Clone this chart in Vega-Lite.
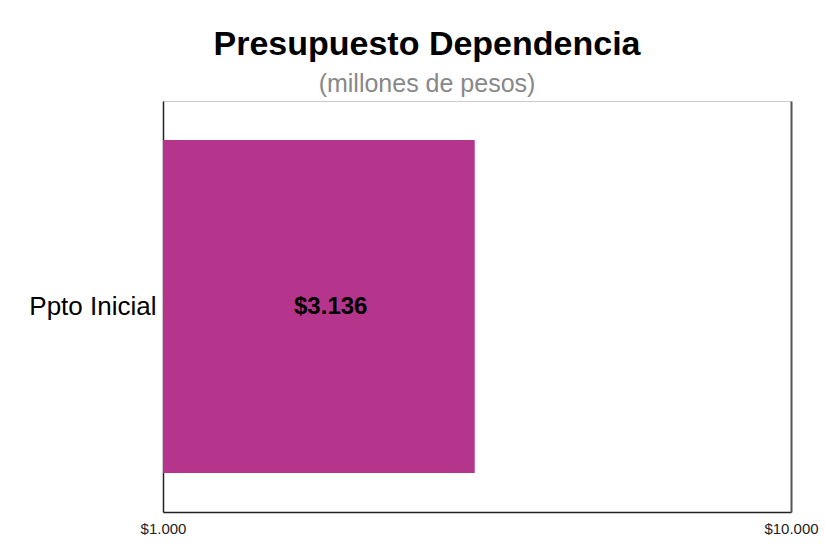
{
  "$schema": "https://vega.github.io/schema/vega-lite/v6.json",
  "autosize": "none",
  "width": 628,
  "height": 411,
  "padding": {"left": 163, "top": 101, "right": 34, "bottom": 38},
  "background": "white",
  "title": {
    "text": "Presupuesto Dependencia",
    "subtitle": "(millones de pesos)",
    "anchor": "middle",
    "dx": -50,
    "offset": 4,
    "font": "Liberation Sans",
    "fontSize": 34,
    "fontWeight": "bold",
    "color": "black",
    "subtitleFont": "Liberation Sans",
    "subtitleFontSize": 25,
    "subtitleColor": "#888888",
    "subtitlePadding": 10
  },
  "config": {
    "locale": {"number": {"decimal": ",", "thousands": ".", "grouping": [3], "currency": ["$", ""]}},
    "view": {"stroke": "#cccccc", "strokeWidth": 1},
    "font": "Liberation Sans"
  },
  "data": {"values": [{"categoria": "Ppto Inicial", "monto": 3136}]},
  "layer": [
    {
      "mark": {"type": "bar", "color": "#B5358C"},
      "encoding": {
        "y": {
          "field": "categoria",
          "type": "nominal",
          "scale": {"paddingInner": 0.19, "paddingOuter": 0.095},
          "axis": {
            "title": null,
            "ticks": false,
            "domainColor": "#222222",
            "domainWidth": 1.5,
            "labelFontSize": 26,
            "labelColor": "black",
            "labelPadding": 7,
            "labelFont": "Liberation Sans"
          }
        },
        "x": {
          "field": "monto",
          "type": "quantitative",
          "scale": {"type": "log", "domain": [1000, 10000], "nice": false},
          "axis": {
            "title": null,
            "values": [1000, 10000],
            "format": "$,.0f",
            "grid": false,
            "ticks": false,
            "domainColor": "#222222",
            "domainWidth": 1.5,
            "labelFontSize": 15,
            "labelColor": "#222222",
            "labelPadding": 9,
            "labelFlush": false,
            "labelOverlap": false,
            "labelAlign": "center"
          }
        },
        "x2": {"datum": 1000}
      }
    },
    {
      "mark": {"type": "text", "fontSize": 24, "fontWeight": "bold", "color": "black", "align": "center", "baseline": "middle", "dx": -144, "dy": 0},
      "encoding": {
        "y": {
          "field": "categoria",
          "type": "nominal",
          "axis": {"orient": "right", "title": null, "labels": false, "ticks": false, "domainColor": "#555555", "domainWidth": 2}
        },
        "x": {"field": "monto", "type": "quantitative"},
        "text": {"field": "monto", "type": "quantitative", "format": "$,.0f"}
      }
    }
  ],
  "resolve": {"axis": {"y": "independent"}}
}
